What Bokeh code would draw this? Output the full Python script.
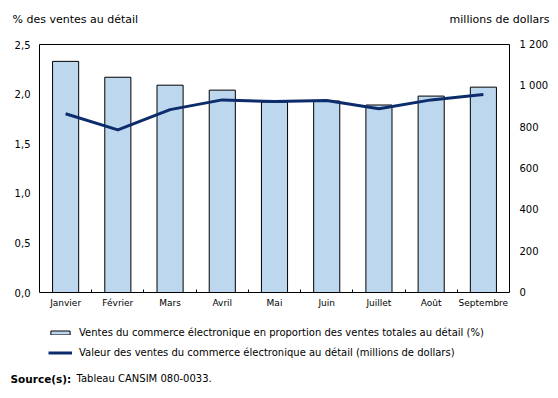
from bokeh.plotting import figure
from bokeh.models import (Range1d, LinearAxis, FixedTicker, Legend, LegendItem,
                          Label, ColumnDataSource)
from bokeh.embed import file_html
from bokeh.resources import INLINE

months = ["Janvier", "Février", "Mars", "Avril", "Mai", "Juin", "Juillet", "Août", "Septembre"]
share_pct = [2.33, 2.17, 2.09, 2.04, 1.92, 1.93, 1.89, 1.98, 2.07]
value_musd = [865, 787, 885, 932, 924, 929, 889, 932, 958]
left_ticks = [0.0, 0.5, 1.0, 1.5, 2.0, 2.5]
left_labels = ["0,0", "0,5", "1,0", "1,5", "2,0", "2,5"]
right_ticks = [0, 200, 400, 600, 800, 1000, 1200]
right_labels = ["0", "200", "400", "600", "800", "1 000", "1 200"]
left_title = "% des ventes au détail"
right_title = "millions de dollars"
legend_labels = ["Ventes du commerce électronique en proportion des ventes totales au détail (%)",
                 "Valeur des ventes du commerce électronique au détail (millions de dollars)"]
source_bold = "Source(s):"
source_text = "Tableau CANSIM 080-0033."

FONT = "DejaVu Sans"
BAR = "#bdd7ee"
LINE = "#0c2c6c"

# canvas and plot-area geometry (pixels)
W, H = 550, 390
PL, PR, PT, PB = 39, 509, 44, 292
NX = len(months)
YMAX_L, YMAX_R = 2.5, 1200

xpp = NX / (PR - PL)
ypp_l = YMAX_L / (PB - PT)
ypp_r = YMAX_R / (PB - PT)

xs = [i + 0.5 for i in range(NX)]
src = ColumnDataSource(dict(x=xs, share=share_pct, val=value_musd))

p = figure(width=W, height=H, output_backend="svg", toolbar_location=None,
           x_range=Range1d(-PL * xpp, NX + (W - PR) * xpp),
           y_range=Range1d(-(H - PB) * ypp_l, YMAX_L + PT * ypp_l),
           x_axis_location=None, y_axis_location=None, min_border=0)
p.extra_y_ranges = {"dollars": Range1d(-(H - PB) * ypp_r, YMAX_R + PT * ypp_r)}
p.grid.visible = False
p.outline_line_color = None

bars = p.vbar(x="x", top="share", width=0.5, source=src, fill_color=BAR,
              line_color="black", line_width=1)
line = p.line(x="x", y="val", source=src, y_range_name="dollars",
              line_color=LINE, line_width=3)


def plain(ax):
    ax.major_tick_in = 0
    ax.major_tick_out = 0
    ax.minor_tick_in = 0
    ax.minor_tick_out = 0
    ax.axis_line_color = "black"
    ax.major_label_text_font = FONT
    ax.major_label_text_color = "black"


xa = LinearAxis(fixed_location=0, bounds=(0, NX),
                ticker=FixedTicker(ticks=xs, minor_ticks=list(range(1, NX))))
plain(xa)
xa.major_label_overrides = {x: m for x, m in zip(xs, months)}
xa.minor_tick_in = 3
xa.minor_tick_line_color = "black"
xa.major_label_text_font_size = "9px"
xa.major_label_standoff = 5
p.add_layout(xa, "below")

ta = LinearAxis(fixed_location=YMAX_L, bounds=(0, NX), ticker=FixedTicker(ticks=[]))
plain(ta)
ta.major_label_text_alpha = 0
p.add_layout(ta, "above")

ya = LinearAxis(fixed_location=0, bounds=(0, YMAX_L), ticker=FixedTicker(ticks=left_ticks))
plain(ya)
ya.major_label_overrides = {t: l for t, l in zip(left_ticks, left_labels)}
ya.major_label_text_font_size = "10px"
ya.major_label_standoff = 9
p.add_layout(ya, "left")

ra = LinearAxis(y_range_name="dollars", fixed_location=NX, bounds=(0, YMAX_R),
                ticker=FixedTicker(ticks=right_ticks))
plain(ra)
ra.major_label_overrides = {t: l for t, l in zip(right_ticks, right_labels)}
ra.major_label_text_font_size = "10px"
ra.major_label_standoff = 10
p.add_layout(ra, "right")

# axis titles (screen units, origin bottom-left)
p.add_layout(Label(x=12, y=H - 19, x_units="screen", y_units="screen",
                   text=left_title, text_font=FONT, text_font_size="11px",
                   text_baseline="middle", text_align="left", text_color="black"))
p.add_layout(Label(x=549, y=H - 19, x_units="screen", y_units="screen",
                   text=right_title, text_font=FONT, text_font_size="11px",
                   text_baseline="middle", text_align="right", text_color="black"))

legend = Legend(items=[LegendItem(label=legend_labels[0], renderers=[bars]),
                       LegendItem(label=legend_labels[1], renderers=[line])],
                location=(48, H - 359), orientation="vertical")
legend.glyph_width = 24
legend.glyph_height = 5
legend.label_height = 14
legend.spacing = 6
legend.padding = 0
legend.margin = 0
legend.label_standoff = 7
legend.border_line_alpha = 0
legend.background_fill_alpha = 0
legend.label_text_font = FONT
legend.label_text_font_size = "10px"
legend.label_text_color = "black"
p.add_layout(legend, "center")

p.add_layout(Label(x=10, y=H - 378, x_units="screen", y_units="screen",
                   text=source_bold, text_font=FONT, text_font_style="bold",
                   text_font_size="10.5px", text_baseline="middle", text_align="left",
                   text_color="black"))
p.add_layout(Label(x=76, y=H - 378, x_units="screen", y_units="screen",
                   text=source_text, text_font=FONT, text_font_size="10px",
                   text_baseline="middle", text_align="left", text_color="black"))

open("out.html", "w").write(file_html(p, INLINE))
